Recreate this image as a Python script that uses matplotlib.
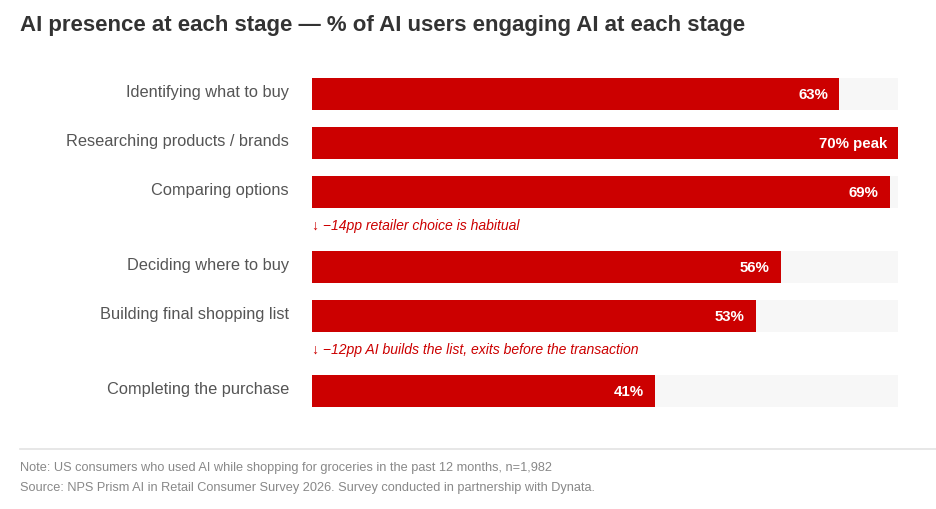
import matplotlib
matplotlib.use("Agg")
from matplotlib import pyplot as plt

plt.rcParams['font.family'] = ['Liberation Sans', 'DejaVu Sans']

# data
stages = [
    "Identifying what to buy",
    "Researching products / brands",
    "Comparing options",
    "Deciding where to buy",
    "Building final shopping list",
    "Completing the purchase",
]
values = [63, 70, 69, 56, 53, 41]
value_labels = ["63%", "70% peak", "69%", "56%", "53%", "41%"]
# annotation shown under a stage (index -> text)
notes = {
    2: "\u2193 \u221214pp retailer choice is habitual",
    4: "\u2193 \u221212pp AI builds the list, exits before the transaction",
}
title = "AI presence at each stage \u2014 % of AI users engaging AI at each stage"
note_text = "Note: US consumers who used AI while shopping for groceries in the past 12 months, n=1,982"
source_text = "Source: NPS Prism AI in Retail Consumer Survey 2026. Survey conducted in partnership with Dynata."

RED = "#cc0000"
W, H = 936, 510

# layout in pixels
row_step = 49
note_extra = 26
bar_h = 32
positions = []
y = 0
for i in range(len(stages)):
    positions.append(y)
    y += row_step
    if i in notes:
        y += note_extra

fig = plt.figure(figsize=(W / 100, H / 100), dpi=100)
fig.patch.set_facecolor("white")

top_px, left_px, right_px = 79, 312, 898
span = positions[-1] + bar_h
ax = fig.add_axes([left_px / W, 1 - (top_px + span) / H, (right_px - left_px) / W, span / H])
ax.set_xlim(0, 70)
ax.set_ylim(positions[-1] + bar_h / 2, -bar_h / 2)
ax.axis("off")

vmax = 70
ax.barh(positions, [vmax] * len(values), height=bar_h, color="#f7f7f7", zorder=1)
ax.barh(positions, values, height=bar_h, color=RED, zorder=2)

px_per_unit = (right_px - left_px) / vmax
for yp, v, lab, name in zip(positions, values, value_labels, stages):
    ax.text(v - 11 / px_per_unit, yp, lab, ha="right", va="center", color="white",
            fontsize=10.8, fontweight="bold", zorder=3)
    ax.text(-23 / px_per_unit, yp - 2.5, name, ha="right", va="center", color="#555555",
            fontsize=11.8, clip_on=False)

for i, txt in notes.items():
    yp = positions[i] + bar_h / 2 + 17
    ax.text(0, yp, txt, ha="left", va="center", color=RED, fontsize=10.1,
            fontstyle="italic", clip_on=False)

fig.text(20 / W, 1 - 25 / H, title, ha="left", va="center", color="#333333",
         fontsize=16, fontweight="bold")

fig.add_artist(plt.Line2D([20 / W, 1], [1 - 450 / H, 1 - 450 / H], color="#e3e3e3", lw=1.2))
fig.text(20 / W, 1 - 468 / H, note_text, ha="left", va="center", color="#888888", fontsize=9.2)
fig.text(20 / W, 1 - 488 / H, source_text, ha="left", va="center", color="#888888", fontsize=9.2)

fig.savefig("out.png", dpi=100, facecolor="white")
